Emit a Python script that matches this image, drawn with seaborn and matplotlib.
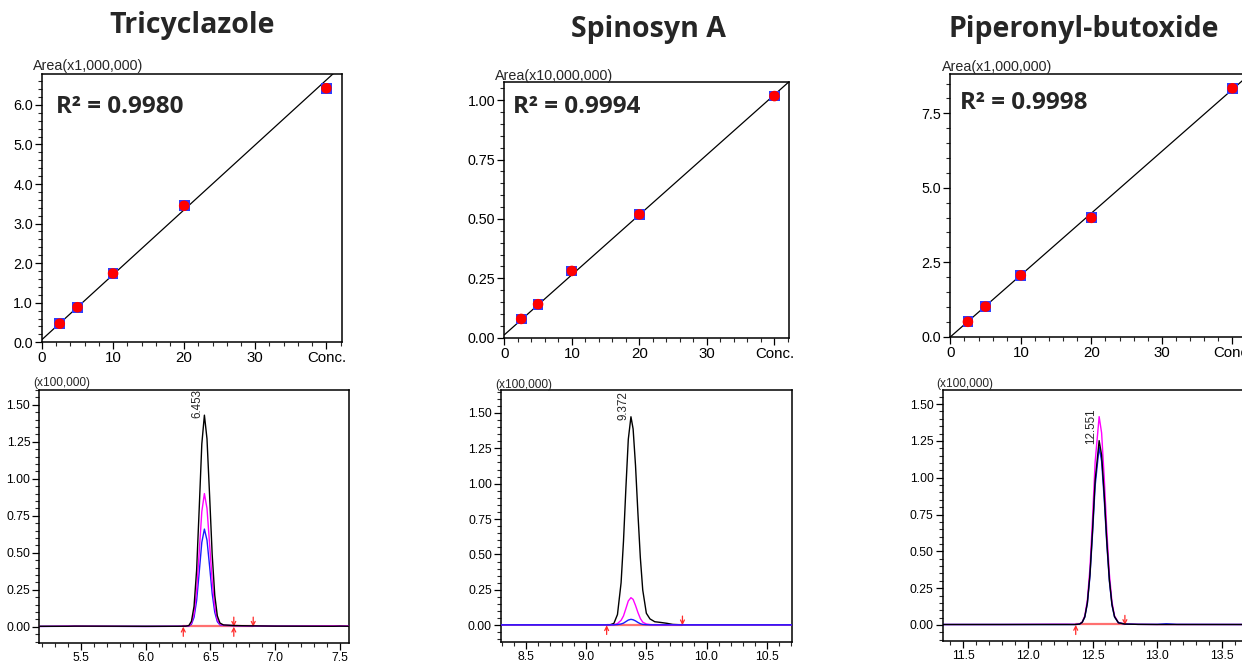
"""
Calibration curves and chromatograms for three pesticides
(Tricyclazole, Spinosyn A, Piperonyl-butoxide) -> out.png
"""

import matplotlib.pyplot as plt
from matplotlib.ticker import MultipleLocator, FixedLocator, FormatStrFormatter
import pandas as pd
import seaborn as sns

# ---------------------------------------------------------------------------
# Data
# ---------------------------------------------------------------------------
COMPOUNDS = ["Tricyclazole", "Spinosyn A", "Piperonyl-butoxide"]
R2_LABELS = ["R\u00b2 = 0.9980", "R\u00b2 = 0.9994", "R\u00b2 = 0.9998"]
AREA_LABELS = ["Area(x1,000,000)", "Area(x10,000,000)", "Area(x1,000,000)"]
INT_LABEL = "(x100,000)"
PEAK_LABELS = ["6.453", "9.372", "12.551"]
PEAK_RT = [6.453, 9.372, 12.551]
PEAK_LABEL_H = [1.43, 1.473, 1.252]

CONC = [2.5, 5, 10, 20, 40]
CONC_TICKS = [0, 10, 20, 30, 40]
CONC_TICK_LABELS = ["0", "10", "20", "30", "Conc."]
AREA_TRI = [0.47, 0.886, 1.74, 3.45, 6.42]
AREA_SPI = [0.079, 0.141, 0.281, 0.519, 1.017]
AREA_PIP = [0.50, 1.01, 2.06, 3.99, 8.34]
FIT_SLOPE = [0.164, 0.02527, 0.2078]
FIT_ICPT = [0.07, 0.012, -0.008]

# chromatograms: time (min) and intensity (x100,000) per channel
RT_TRI = [5.18, 5.40, 5.45, 6.00, 6.25, 6.31, 6.333, 6.353, 6.373, 6.393, 6.413,
          6.433, 6.453, 6.473, 6.493, 6.513, 6.533, 6.553, 6.573, 6.60, 6.68,
          6.80, 7.00, 7.45, 7.50, 7.57]
BLACK_TRI = [0.003, 0.003, 0.004, 0.003, 0.003, 0.004, 0.008, 0.037, 0.138, 0.384,
             0.80, 1.235, 1.43, 1.27, 0.89, 0.49, 0.213, 0.073, 0.025, 0.012,
             0.008, 0.006, 0.004, 0.003, 0.004, 0.003]
PINK_TRI = [0.002, 0.004, 0.004, 0.002, 0.003, 0.004, 0.006, 0.024, 0.088, 0.243,
            0.505, 0.778, 0.90, 0.80, 0.56, 0.31, 0.135, 0.047, 0.017, 0.010,
            0.008, 0.006, 0.004, 0.006, 0.006, 0.005]
BLUE_TRI = [0.002, 0.003, 0.003, 0.002, 0.003, 0.003, 0.005, 0.017, 0.064, 0.177,
            0.369, 0.57, 0.66, 0.585, 0.41, 0.225, 0.098, 0.034, 0.013, 0.009,
            0.007, 0.006, 0.004, 0.003, 0.003, 0.003]

RT_SPI = [8.29, 8.60, 9.00, 9.15, 9.20, 9.23, 9.26, 9.29, 9.31, 9.33, 9.35,
          9.372, 9.39, 9.41, 9.43, 9.45, 9.47, 9.50, 9.53, 9.57, 9.62, 9.67,
          9.72, 9.80, 10.20, 10.71]
BLACK_SPI = [0.003, 0.003, 0.003, 0.003, 0.004, 0.013, 0.076, 0.30, 0.594, 0.97,
             1.314, 1.473, 1.387, 1.128, 0.79, 0.478, 0.249, 0.085, 0.045, 0.025,
             0.02, 0.014, 0.006, 0.003, 0.003, 0.003]
PINK_SPI = [0.003, 0.003, 0.003, 0.003, 0.003, 0.004, 0.012, 0.035, 0.066, 0.118,
            0.172, 0.195, 0.183, 0.14, 0.09, 0.048, 0.022, 0.009, 0.005, 0.003,
            0.003, 0.003, 0.003, 0.003, 0.003, 0.003]
BLUE_SPI = [0.003, 0.003, 0.003, 0.003, 0.003, 0.003, 0.005, 0.009, 0.015, 0.026,
            0.037, 0.042, 0.039, 0.031, 0.02, 0.011, 0.006, 0.004, 0.003, 0.003,
            0.003, 0.003, 0.003, 0.003, 0.003, 0.003]

RT_PIP = [11.34, 11.80, 12.20, 12.30, 12.37, 12.40, 12.42, 12.44, 12.46, 12.48,
          12.50, 12.52, 12.551, 12.57, 12.59, 12.61, 12.63, 12.65, 12.67, 12.70,
          12.75, 12.85, 13.00, 13.07, 13.15, 13.74]
BLACK_PIP = [0.003, 0.003, 0.003, 0.003, 0.003, 0.006, 0.018, 0.055, 0.15, 0.343,
             0.643, 0.98, 1.252, 1.155, 0.89, 0.572, 0.308, 0.14, 0.056, 0.015,
             0.006, 0.004, 0.003, 0.003, 0.003, 0.003]
PINK_PIP = [0.003, 0.003, 0.005, 0.005, 0.004, 0.007, 0.02, 0.062, 0.17, 0.388,
            0.726, 1.107, 1.415, 1.305, 1.005, 0.646, 0.348, 0.157, 0.062, 0.016,
            0.007, 0.004, 0.003, 0.003, 0.003, 0.003]
BLUE_PIP = [0.003, 0.003, 0.003, 0.003, 0.003, 0.006, 0.017, 0.053, 0.145, 0.331,
            0.62, 0.944, 1.207, 1.113, 0.858, 0.552, 0.297, 0.135, 0.054, 0.014,
            0.006, 0.004, 0.004, 0.008, 0.004, 0.003]

# integration baseline (start, end) and marks: up arrows / down arrows
INTEG = [(6.29, 6.83), (9.17, 9.80), (12.37, 12.75)]
UP_MARKS = [[6.29, 6.68], [9.17], [12.37]]
DOWN_MARKS = [[6.68, 6.83], [9.80], [12.75]]

# ---------------------------------------------------------------------------
# Layout / style
# ---------------------------------------------------------------------------
W, H = 1242, 663
CAL_BOX = [(42, 74, 342, 342.3), (504.3, 82.3, 789.3, 337.7), (950.3, 74.3, 1248, 336.7)]
CHR_BOX = [(39.3, 390, 349.3, 642.7), (501, 390, 792.3, 641.7), (942.7, 390, 1253, 641)]
CAL_YLIM = [(0, 6.78), (0, 1.075), (0, 8.81)]
CAL_YSTEP = [(1.0, 0.2, "%.1f"), (0.25, 0.05, "%.2f"), (2.5, 0.5, "%.1f")]
CHR_XLIM = [(5.178, 7.572), (8.292, 10.713), (11.342, 13.74)]
CHR_YLIM = [(-0.108, 1.60), (-0.116, 1.662), (-0.109, 1.596)]
# drawing order of the channels (bottom -> top)
CHR_ORDER = [["blue", "pink", "black"], ["black", "pink", "blue"], ["pink", "blue", "black"]]
TITLE_POS = [(192, 26), (648, 29), (1084, 29)]
R2_POS = [(56, 107), (513, 107), (960, 103)]
AREA_POS = [(33, 66), (495, 76), (942, 67.5)]
INT_POS = [(33, 383), (495, 384.5), (936, 383.5)]

COLORS = {"black": "black", "pink": "#ff00ff", "blue": "#1a1aff"}
RED = "#ff2a2a"
BASE_RED = "#ff7070"

sns.set_theme(style="ticks")
plt.rcParams["font.family"] = ["Liberation Sans", "DejaVu Sans"]
plt.rcParams["axes.linewidth"] = 1.1


def box(b):
    l, t, r, bt = b
    return [l / W, 1 - bt / H, (r - l) / W, (bt - t) / H]


def fpos(p):
    return p[0] / W, 1 - p[1] / H


def style_ax(ax, size):
    for s in ax.spines.values():
        s.set_visible(True)
        s.set_color("black")
    ax.tick_params(which="major", direction="out", length=5, width=0.9,
                   labelsize=size, pad=1.5, colors="black")
    ax.tick_params(which="minor", direction="out", length=3, width=0.8)
    ax.set_xlabel("")
    ax.set_ylabel("")


def draw_calibration(fig, i, area):
    ax = fig.add_axes(box(CAL_BOX[i]))
    df = pd.DataFrame({"conc": CONC, "area": area})
    x0, x1 = 0, 42.2
    fit = pd.DataFrame({"conc": [x0, x1],
                        "area": [FIT_ICPT[i] + FIT_SLOPE[i] * x0,
                                 FIT_ICPT[i] + FIT_SLOPE[i] * x1]})
    sns.lineplot(data=fit, x="conc", y="area", ax=ax, color="black", lw=0.9)
    sns.scatterplot(data=df, x="conc", y="area", ax=ax, marker="s", s=60,
                    color="#2b3cff", edgecolor="none", zorder=3)
    sns.scatterplot(data=df, x="conc", y="area", ax=ax, marker="o", s=58,
                    color="#ff0000", edgecolor="none", zorder=4)
    ax.set_xlim(x0, x1)
    ax.set_ylim(*CAL_YLIM[i])
    major, minor, fmt = CAL_YSTEP[i]
    ax.yaxis.set_major_locator(MultipleLocator(major))
    ax.yaxis.set_minor_locator(MultipleLocator(minor))
    ax.yaxis.set_major_formatter(FormatStrFormatter(fmt))
    ax.xaxis.set_major_locator(FixedLocator(CONC_TICKS))
    ax.set_xticklabels(CONC_TICK_LABELS)
    ax.xaxis.set_minor_locator(MultipleLocator(2))
    style_ax(ax, 10.3)
    ax.tick_params(axis="x", labelsize=10.8)

    fig.text(*fpos(TITLE_POS[i]), COMPOUNDS[i], ha="center", va="center",
             fontsize=20.5, fontweight="bold", family=["Open Sans", "DejaVu Sans"])
    fig.text(*fpos(R2_POS[i]), R2_LABELS[i], ha="left", va="center",
             fontsize=17.5, fontweight="bold", family=["Open Sans", "DejaVu Sans"])
    fig.text(*fpos(AREA_POS[i]), AREA_LABELS[i], ha="left", va="center",
             fontsize=10.3)


def draw_chromatogram(fig, i, rt, black, pink, blue):
    ax = fig.add_axes(box(CHR_BOX[i]))
    df = pd.DataFrame({"rt": rt, "black": black, "pink": pink, "blue": blue})
    x0, x1 = CHR_XLIM[i]
    s, e = INTEG[i]
    sns.lineplot(x=[s, e], y=[0.004, 0.004], ax=ax, color=BASE_RED, lw=1.6, zorder=1)
    for z, ch in enumerate(CHR_ORDER[i]):
        sns.lineplot(data=df, x="rt", y=ch, ax=ax, color=COLORS[ch], lw=1.0, zorder=2 + z)
    for t in UP_MARKS[i]:
        ax.annotate("", xy=(t, 0.0), xytext=(t, -0.065),
                    arrowprops=dict(arrowstyle="->", color=RED, lw=0.9,
                                    shrinkA=0, shrinkB=0, mutation_scale=7))
    for t in DOWN_MARKS[i]:
        ax.annotate("", xy=(t, 0.0), xytext=(t, 0.065),
                    arrowprops=dict(arrowstyle="->", color=RED, lw=0.9,
                                    shrinkA=0, shrinkB=0, mutation_scale=7))
    ax.annotate(PEAK_LABELS[i], xy=(PEAK_RT[i], PEAK_LABEL_H[i]),
                xytext=(-1.5, -3), textcoords="offset pixels",
                rotation=90, ha="right", va="bottom", fontsize=8.4)
    ax.set_xlim(x0, x1)
    ax.set_ylim(*CHR_YLIM[i])
    ax.xaxis.set_major_locator(MultipleLocator(0.5))
    ax.xaxis.set_minor_locator(MultipleLocator(0.1))
    ax.xaxis.set_major_formatter(FormatStrFormatter("%.1f"))
    ax.yaxis.set_major_locator(MultipleLocator(0.25))
    ax.yaxis.set_minor_locator(MultipleLocator(0.05))
    ax.yaxis.set_major_formatter(FormatStrFormatter("%.2f"))
    style_ax(ax, 8.8)
    fig.text(*fpos(INT_POS[i]), INT_LABEL, ha="left", va="center", fontsize=8.6)


def main():
    fig = plt.figure(figsize=(W / 100, H / 100), dpi=100)
    for i, area in enumerate([AREA_TRI, AREA_SPI, AREA_PIP]):
        draw_calibration(fig, i, area)
    chroms = [(RT_TRI, BLACK_TRI, PINK_TRI, BLUE_TRI),
              (RT_SPI, BLACK_SPI, PINK_SPI, BLUE_SPI),
              (RT_PIP, BLACK_PIP, PINK_PIP, BLUE_PIP)]
    for i, c in enumerate(chroms):
        draw_chromatogram(fig, i, *c)
    fig.savefig("out.png", dpi=100)
    plt.close(fig)


if __name__ == "__main__":
    main()
